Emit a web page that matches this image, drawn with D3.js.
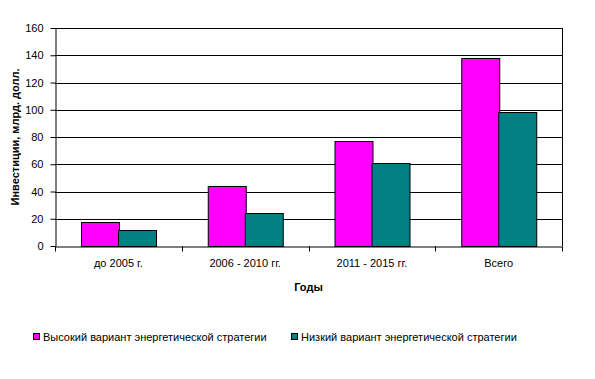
<!DOCTYPE html>
<html>
<head>
<meta charset="utf-8">
<script src="https://cdn.jsdelivr.net/npm/d3@7"></script>
<style>
  body { margin: 0; background: #fff; }
  svg text { font-family: "Liberation Sans", Arial, sans-serif; fill: #000; }
</style>
</head>
<body>
<svg id="chart" width="595" height="379"></svg>
<script>
var categories = ["до 2005 г.", "2006 - 2010 гг.", "2011 - 2015 гг.", "Всего"];
var seriesNames = ["Высокий вариант энергетической стратегии", "Низкий вариант энергетической стратегии"];
var highValues = [17.5, 44, 77, 138];
var lowValues = [12, 24, 61, 98];
var yTicks = [0, 20, 40, 60, 80, 100, 120, 140, 160];
var colors = ["#ff00ff", "#008080"];

var svg = d3.select("#chart"),
    margin = {left: 55, top: 28, right: 33, bottom: 133},
    width = 595 - margin.left - margin.right,
    height = 379 - margin.top - margin.bottom;

var g = svg.append("g").attr("transform", "translate(" + margin.left + "," + margin.top + ")");

var x = d3.scaleBand().domain(categories).range([0, width]);
var xInner = d3.scaleBand().domain([0, 1]).range([0, x.bandwidth()]).paddingOuter(0.69).paddingInner(0);
var y = d3.scaleLinear().domain([0, 160]).range([height, 0]);

// gridlines
g.append("g").selectAll("line")
  .data(yTicks.slice(1))
  .enter().append("line")
    .attr("x1", 0).attr("x2", width)
    .attr("y1", function(d) { return Math.round(y(d)) + 0.5; })
    .attr("y2", function(d) { return Math.round(y(d)) + 0.5; })
    .attr("stroke", "#000").attr("stroke-width", 1);

// right border
g.append("line")
  .attr("x1", width + 0.5).attr("x2", width + 0.5)
  .attr("y1", 0).attr("y2", height)
  .attr("stroke", "#000");

// bars
var rows = categories.map(function(c, i) { return {cat: c, vals: [highValues[i], lowValues[i]]}; });
var groups = g.selectAll("g.grp")
  .data(rows)
  .enter().append("g")
    .attr("class", "grp")
    .attr("transform", function(d) { return "translate(" + x(d.cat) + ",0)"; });

groups.selectAll("rect")
  .data(function(d) { return d.vals; })
  .enter().append("rect")
    .attr("x", function(d, i) { return Math.round(xInner(i)) + 0.5; })
    .attr("y", function(d) { return Math.round(y(d)) + 0.5; })
    .attr("width", Math.round(xInner.bandwidth()))
    .attr("height", function(d) { return Math.round(height - y(d)); })
    .attr("fill", function(d, i) { return colors[i]; })
    .attr("stroke", "#000").attr("stroke-width", 1);

// y axis
var yAxis = g.append("g")
  .attr("transform", "translate(0.5,0)")
  .call(d3.axisLeft(y).tickValues(yTicks).tickSize(5).tickSizeOuter(0).tickPadding(7));
yAxis.selectAll("path, line").attr("stroke", "#000");
yAxis.selectAll("text").attr("font-size", 11).style("font-family", "'Liberation Sans', Arial, sans-serif");

// x axis
var xAxis = g.append("g")
  .attr("transform", "translate(0," + (height + 0.5) + ")")
  .call(d3.axisBottom(x).tickSize(0).tickPadding(13));
xAxis.select("path").attr("stroke", "#000");
xAxis.selectAll("text").attr("font-size", 11).style("font-family", "'Liberation Sans', Arial, sans-serif");
xAxis.selectAll(".bnd")
  .data(d3.range(categories.length + 1))
  .enter().append("line")
    .attr("class", "bnd")
    .attr("x1", function(i) { return Math.round(i * x.step()) + 0.5; })
    .attr("x2", function(i) { return Math.round(i * x.step()) + 0.5; })
    .attr("y1", 0).attr("y2", 5)
    .attr("stroke", "#000");

// axis titles
svg.append("text")
  .attr("transform", "translate(19," + (margin.top + height / 2) + ") rotate(-90)")
  .attr("text-anchor", "middle")
  .attr("font-size", 11).attr("font-weight", "bold")
  .text("Инвестиции, млрд. долл.");

svg.append("text")
  .attr("x", margin.left + width / 2).attr("y", 291)
  .attr("text-anchor", "middle")
  .attr("font-size", 11).attr("font-weight", "bold")
  .text("Годы");

// legend
var legendX = [33, 291];
var legend = svg.selectAll("g.leg")
  .data(seriesNames)
  .enter().append("g")
    .attr("class", "leg")
    .attr("transform", function(d, i) { return "translate(" + legendX[i] + ",333)"; });
legend.append("rect")
  .attr("x", 0.5).attr("y", 0.5).attr("width", 6).attr("height", 6)
  .attr("fill", function(d, i) { return colors[i]; })
  .attr("stroke", "#000");
legend.append("text")
  .attr("x", 10).attr("y", 8)
  .attr("font-size", 11)
  .text(function(d) { return d; });
</script>
</body>
</html>
